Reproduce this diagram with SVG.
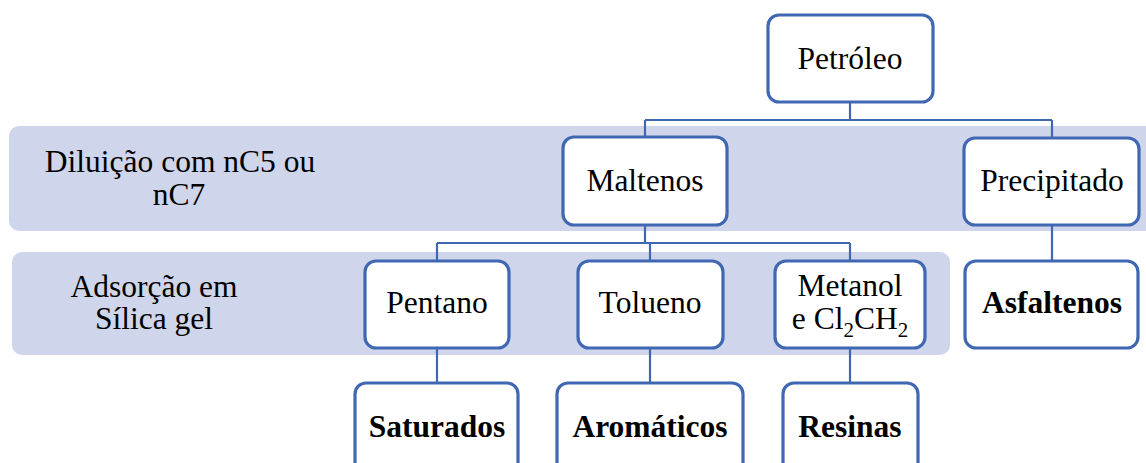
<svg xmlns="http://www.w3.org/2000/svg" width="1146" height="463" viewBox="0 0 1146 463" font-family="'Liberation Serif', 'DejaVu Serif', serif">
  <style>
    .band { fill: #cfd5ea; }
    .box { fill: #ffffff; stroke: #4068b2; stroke-width: 3.2; }
    .link { fill: none; stroke: #4068b2; stroke-width: 2.2; }
    text { font-family: 'Liberation Serif', 'DejaVu Serif', serif; font-size: 31.5px; fill: #000000; text-anchor: middle; }
    .b { font-weight: bold; }
    .sub { font-size: 21px; }
  </style>

  <!-- Process stage bands -->
  <g id="band-diluicao">
    <rect class="band" x="9" y="126" width="1150" height="105" rx="10"/>
    <text x="180" y="172">Diluição com nC5 ou</text>
    <text x="179" y="205">nC7</text>
  </g>
  <g id="band-adsorcao">
    <rect class="band" x="12" y="252" width="938" height="103" rx="10"/>
    <text x="154" y="297">Adsorção em</text>
    <text x="154" y="329">Sílica gel</text>
  </g>

  <!-- Connectors -->
  <g id="connectors">
    <path class="link" d="M850 102 V120 M645 120 H1052 M645 120 V137 M1052 120 V138"/>
    <path class="link" d="M645 225 V243 M437 243 H850 M437 243 V261 M650 243 V261 M850 243 V261"/>
    <path class="link" d="M1052 225 V261"/>
    <path class="link" d="M437 348 V383 M650 348 V383 M850 348 V383"/>
  </g>

  <!-- Nodes -->
  <g id="petroleo">
    <rect class="box" x="768" y="15" width="165" height="87" rx="11"/>
    <text x="850" y="69">Petróleo</text>
  </g>
  <g id="maltenos">
    <rect class="box" x="563" y="137" width="164" height="88" rx="11"/>
    <text x="645" y="191">Maltenos</text>
  </g>
  <g id="precipitado">
    <rect class="box" x="964" y="138" width="175" height="87" rx="11"/>
    <text x="1052" y="191">Precipitado</text>
  </g>
  <g id="pentano">
    <rect class="box" x="365" y="261" width="144" height="87" rx="11"/>
    <text x="437" y="313">Pentano</text>
  </g>
  <g id="tolueno">
    <rect class="box" x="578" y="261" width="145" height="87" rx="11"/>
    <text x="650" y="313">Tolueno</text>
  </g>
  <g id="metanol">
    <rect class="box" x="775" y="261" width="150" height="87" rx="11"/>
    <text x="850" y="296">Metanol</text>
    <text x="850" y="329">e Cl<tspan class="sub" dy="8">2</tspan><tspan dy="-8">CH</tspan><tspan class="sub" dy="8">2</tspan></text>
  </g>
  <g id="asfaltenos">
    <rect class="box" x="965" y="261" width="173" height="87" rx="11"/>
    <text class="b" x="1052" y="313">Asfaltenos</text>
  </g>
  <g id="saturados">
    <rect class="box" x="355" y="383" width="163" height="100" rx="11"/>
    <text class="b" x="437" y="437">Saturados</text>
  </g>
  <g id="aromaticos">
    <rect class="box" x="557" y="383" width="186" height="100" rx="11"/>
    <text class="b" x="650" y="437">Aromáticos</text>
  </g>
  <g id="resinas">
    <rect class="box" x="783" y="383" width="135" height="100" rx="11"/>
    <text class="b" x="850" y="437">Resinas</text>
  </g>
</svg>
